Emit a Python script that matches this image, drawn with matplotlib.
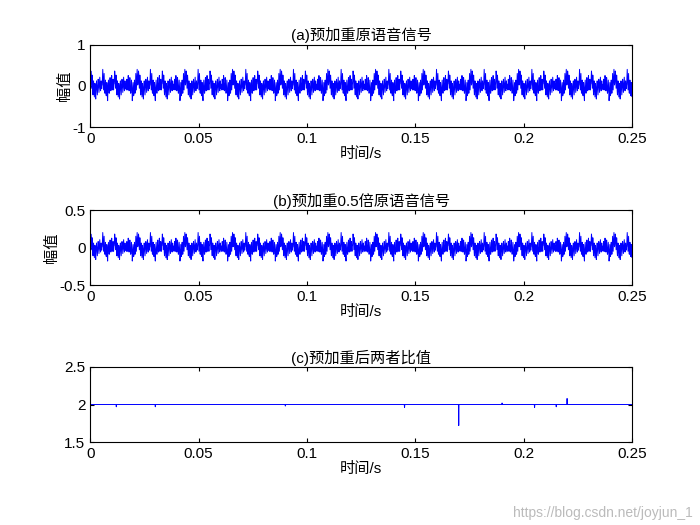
import numpy as np
import matplotlib
matplotlib.use("Agg")
import matplotlib.pyplot as plt

plt.rcParams['font.family'] = ['Liberation Sans', 'Noto Sans CJK SC', 'DejaVu Sans']

fs = 8000
duration = 0.25
# one pitch period (44 samples) of the pre-emphasised speech, two variants, read approximately
cycle_a = [0.05, 0.22, 0.36, 0.28, 0.12, -0.06, 0.12, 0.26, 0.14, -0.12, -0.22, -0.04, 0.12, 0.02,
           -0.16, -0.27, -0.08, 0.06, -0.02, -0.22, -0.32, -0.14, 0.02, 0.12, 0.03, -0.12, -0.22,
           -0.08, 0.07, 0.16, 0.08, -0.07, -0.16, -0.03, 0.12, 0.21, 0.08, -0.07, -0.12, 0.02, 0.12,
           0.03, -0.07, 0.01]
cycle_b = [0.02, 0.18, 0.40, 0.24, 0.08, -0.10, 0.08, 0.30, 0.10, -0.16, -0.18, -0.08, 0.14, -0.02,
           -0.20, -0.24, -0.12, 0.08, -0.06, -0.26, -0.36, -0.10, 0.04, 0.14, -0.01, -0.16, -0.18,
           -0.12, 0.10, 0.20, 0.04, -0.10, -0.12, -0.07, 0.16, 0.25, 0.04, -0.10, -0.08, 0.06, 0.16,
           -0.01, -0.10, 0.04]
ratio_base = 2.0
spike_times = [0.012, 0.030, 0.090, 0.145, 0.170, 0.190, 0.205, 0.215, 0.220]
spike_vals = [1.97, 1.97, 1.98, 1.96, 1.72, 2.02, 1.96, 1.97, 2.08]

titles = ['(a)预加重原语音信号', '(b)预加重0.5倍原语音信号', '(c)预加重后两者比值']
xticks = [0, 0.05, 0.1, 0.15, 0.2, 0.25]
xticklabels = ['0', '0.05', '0.1', '0.15', '0.2', '0.25']

n = int(fs * duration)
pattern = np.array(cycle_a + cycle_b + cycle_a + cycle_b[::-1])
sig = np.resize(pattern, n)
t = np.arange(n) / fs
half = 0.5 * sig
ratio = np.full(n, ratio_base)
for st, sv in zip(spike_times, spike_vals):
    ratio[int(st * fs)] = sv

fig = plt.figure(figsize=(7, 5.25), dpi=100)
rects = [(0.129, 0.758, 0.774, 0.157), (0.129, 0.457, 0.774, 0.143), (0.129, 0.158, 0.774, 0.143)]
data = [sig, half, ratio]
ylims = [(-1, 1), (-0.5, 0.5), (1.5, 2.5)]
yticks = [[-1, 0, 1], [-0.5, 0, 0.5], [1.5, 2, 2.5]]
for i in range(3):
    ax = fig.add_axes(rects[i])
    ax.plot(t, data[i], color='#0000ff', lw=0.7)
    ax.set_xlim(0, 0.25)
    ax.set_ylim(*ylims[i])
    ax.set_yticks(yticks[i])
    ax.set_yticklabels([str(v) for v in yticks[i]])
    ax.set_xticks(xticks)
    ax.set_xticklabels(xticklabels)
    ax.tick_params(labelsize=11, direction='in', top=True, right=True, length=3)
    ax.set_title(titles[i], fontsize=11, pad=3)
    ax.set_xlabel('时间/s', fontsize=11, labelpad=1)
    if i < 2:
        ax.set_ylabel('幅值', fontsize=11, labelpad=0)
fig.text(0.99, 0.01, 'https://blog.csdn.net/joyjun_1', ha='right', va='bottom', fontsize=10, color='#bbbbbb')
fig.savefig('out.png', dpi=100)
